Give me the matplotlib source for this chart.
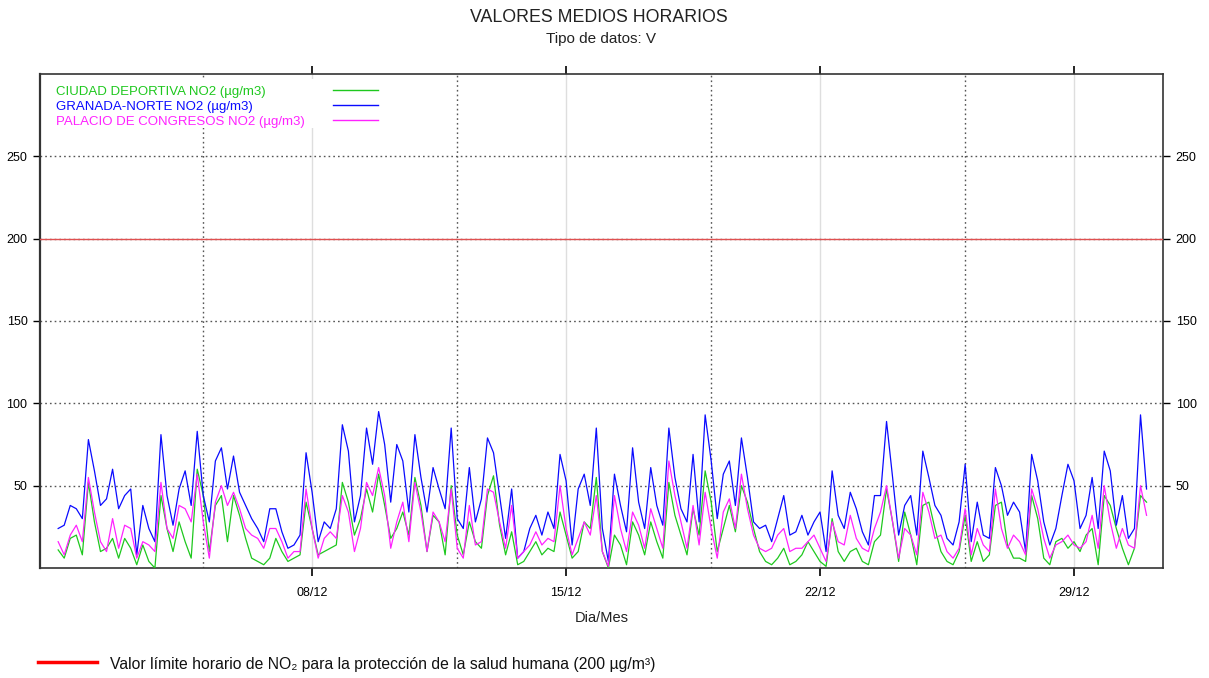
import numpy as np
import matplotlib
matplotlib.use("Agg")
import matplotlib.pyplot as plt
from matplotlib.lines import Line2D
from matplotlib.patches import Rectangle

plt.rcParams['font.family'] = ['Liberation Sans', 'DejaVu Sans']

# hours since 01/12 00:00, one reading every 4 hours
hours = np.arange(0, 721, 4)

granada_norte = [
    24, 26, 38, 36, 30, 78, 59, 38, 42, 60, 36, 44, 48, 8, 38, 24, 16, 81,
    44, 26, 48, 59, 38, 83, 44, 28, 65, 73, 48, 68, 46, 38, 30, 24, 16, 36,
    36, 22, 12, 14, 20, 70, 46, 16, 28, 24, 36, 87, 71, 28, 44, 85, 63, 95,
    75, 40, 75, 65, 34, 81, 55, 34, 61, 48, 36, 85, 30, 24, 61, 28, 42, 79,
    70, 44, 18, 48, 6, 10, 24, 32, 20, 34, 24, 69, 53, 14, 48, 57, 38, 85,
    24, 4, 57, 38, 22, 73, 40, 24, 61, 38, 26, 85, 55, 36, 28, 69, 28, 93,
    65, 30, 57, 65, 38, 79, 55, 28, 24, 26, 16, 30, 44, 20, 22, 32, 20, 28,
    34, 10, 59, 32, 24, 46, 36, 22, 14, 44, 44, 89, 55, 20, 38, 44, 20, 71,
    55, 38, 32, 18, 14, 28, 63, 16, 40, 20, 18, 61, 50, 32, 40, 34, 10, 69,
    53, 28, 14, 24, 44, 63, 53, 24, 32, 55, 24, 71, 59, 26, 44, 18, 24, 93,
    48,
]

palacio_congresos = [
    16, 8, 20, 26, 16, 55, 34, 16, 10, 30, 12, 26, 24, 6, 16, 14, 10, 52,
    24, 18, 38, 36, 28, 57, 28, 6, 40, 50, 38, 46, 36, 24, 20, 18, 12, 24,
    24, 16, 6, 10, 10, 48, 24, 6, 18, 22, 18, 44, 34, 10, 24, 52, 44, 61,
    44, 12, 28, 40, 16, 52, 34, 10, 34, 28, 16, 48, 12, 6, 38, 14, 16, 48,
    46, 28, 12, 38, 6, 10, 14, 22, 14, 18, 16, 50, 24, 8, 18, 28, 20, 44,
    10, 1, 44, 24, 10, 34, 26, 12, 36, 24, 12, 65, 44, 28, 12, 38, 14, 46,
    24, 6, 34, 42, 24, 57, 36, 20, 12, 10, 12, 20, 24, 10, 12, 12, 16, 20,
    12, 4, 28, 16, 14, 32, 18, 12, 10, 24, 34, 50, 28, 6, 24, 20, 8, 46,
    34, 18, 20, 10, 6, 12, 36, 8, 24, 14, 10, 48, 24, 12, 20, 16, 8, 48,
    36, 18, 6, 14, 16, 20, 14, 12, 16, 32, 12, 50, 28, 12, 24, 14, 12, 50,
    32,
]

ciudad_deportiva = [
    11, 6, 18, 20, 8, 52, 28, 10, 12, 18, 6, 18, 12, 2, 14, 4, 0, 44,
    24, 10, 28, 16, 6, 60, 44, 10, 38, 44, 16, 44, 32, 18, 6, 4, 2, 6,
    18, 10, 4, 6, 8, 40, 24, 8, 10, 12, 14, 52, 40, 20, 30, 48, 34, 57,
    38, 18, 24, 34, 20, 55, 38, 10, 32, 28, 8, 50, 20, 8, 28, 16, 12, 44,
    56, 26, 8, 22, 2, 4, 10, 16, 8, 12, 10, 34, 20, 6, 10, 28, 24, 55,
    10, 0, 20, 14, 2, 28, 20, 8, 28, 16, 6, 52, 32, 20, 8, 36, 20, 59,
    40, 10, 24, 38, 22, 50, 40, 24, 10, 4, 2, 6, 12, 2, 4, 8, 16, 10,
    4, 1, 30, 10, 4, 10, 12, 4, 2, 16, 20, 48, 28, 4, 34, 20, 2, 38,
    40, 24, 10, 4, 2, 10, 32, 4, 16, 4, 8, 38, 40, 14, 6, 6, 4, 44,
    30, 6, 2, 16, 18, 12, 16, 10, 20, 24, 2, 44, 38, 24, 12, 2, 12, 44,
    40,
]

series_names = [
    "CIUDAD DEPORTIVA NO2 (µg/m3)",
    "GRANADA-NORTE NO2 (µg/m3)",
    "PALACIO DE CONGRESOS NO2 (µg/m3)",
]
series_values = [ciudad_deportiva, granada_norte, palacio_congresos]
series_colors = ["#1ec81e", "#0a0aff", "#ff22ff"]

tick_hours = [168, 336, 504, 672]
tick_labels = ["08/12", "15/12", "22/12", "29/12"]
week_hours = [96, 264, 432, 600]
limit_value = 200

fig = plt.figure(figsize=(12.09, 6.78), dpi=100)
ax = fig.add_axes([0.0331, 0.1622, 0.929, 0.7287])

for vals, col in zip(series_values, series_colors):
    ax.plot(hours, vals, color=col, lw=0.9, zorder=3)

ax.axhline(limit_value, color="#e05050", lw=1.0, zorder=4)

for h in week_hours:
    ax.axvline(h, color="#555555", lw=1.0, ls=(0, (1.2, 2.2)), zorder=1)

ax.set_xlim(-12, 731)
ax.set_ylim(0, 300)
ax.set_xticks(tick_hours)
ax.set_xticklabels(tick_labels)
ax.set_yticks([50, 100, 150, 200, 250])

ax.xaxis.grid(True, color="#dedede", lw=1.0, ls="-", zorder=0)
ax.yaxis.grid(True, color="#555555", lw=1.0, ls=(0, (1.2, 2.2)), zorder=0)
ax.set_axisbelow(True)

ax.tick_params(axis="x", which="both", direction="out", top=True, bottom=True,
               length=6, width=1.2, labelsize=9, pad=8)
ax.tick_params(axis="y", which="both", direction="out", left=True, right=True,
               labelleft=True, labelright=True, length=5, width=1.0,
               labelsize=9, pad=4)
for sp in ax.spines.values():
    sp.set_color("#333333")
    sp.set_linewidth(1.2)
ax.spines["left"].set_linewidth(1.6)

ax.set_xlabel("Dia/Mes", fontsize=10.5, labelpad=8, color="#222222")

# legend block, top left inside the axes
ax.add_patch(Rectangle((0.007, 0.89), 0.31, 0.1, transform=ax.transAxes,
                       facecolor="white", edgecolor="none", zorder=2))
for i, (name, col) in enumerate(zip(series_names, series_colors)):
    yy = 0.9636 - i * 0.0304
    ax.text(0.0142, yy, name, color=col, fontsize=9.5, transform=ax.transAxes,
            va="center", ha="left", zorder=5)
    ax.add_line(Line2D([0.2609, 0.301], [yy + 0.004, yy + 0.004], color=col,
                       lw=1.0, transform=ax.transAxes, zorder=5))

fig.text(0.495, 1 - 18 / 678, "VALORES MEDIOS HORARIOS", ha="center",
         va="center", fontsize=12.8, color="#222222")
fig.text(0.4975, 1 - 39 / 678, "Tipo de datos: V", ha="center", va="center",
         fontsize=11, color="#222222")

# bottom legend for the limit line
fig.add_artist(Line2D([38 / 1209, 97 / 1209], [1 - 662 / 678, 1 - 662 / 678],
                      color="red", lw=2.5, transform=fig.transFigure))
fig.text(110 / 1209, 1 - 664 / 678,
         "Valor límite horario de NO₂ para la protección de la salud humana (200 µg/m³)",
         ha="left", va="center", fontsize=11.3, color="#111111")

fig.savefig("out.png", dpi=100)
